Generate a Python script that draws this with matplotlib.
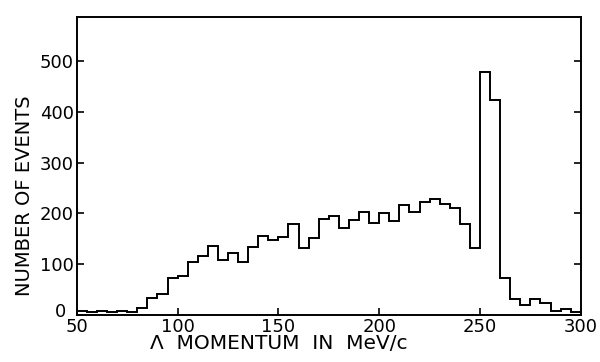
import numpy as np
import matplotlib
matplotlib.use("Agg")
import matplotlib.pyplot as plt
from matplotlib.transforms import offset_copy

# momentum bins, 5 MeV/c wide, 50..300
edges = np.arange(50, 305, 5)
counts = [8, 5, 8, 5, 8, 5, 13, 33, 41, 72,
          77, 105, 117, 136, 108, 123, 104, 134, 155, 148,
          154, 179, 131, 152, 190, 194, 171, 188, 203, 182,
          200, 186, 216, 203, 222, 229, 218, 210, 180, 132,
          478, 423, 73, 32, 20, 31, 24, 8, 12, 6]

xticks = [50, 100, 150, 200, 250, 300]
xticklabels = ["50", "100", "150", "200", "250", "300"]
yticks = [0, 100, 200, 300, 400, 500]

fig = plt.figure(figsize=(6, 3.62), dpi=100)
ax = fig.add_axes([0.128, 0.130, 0.840, 0.823])

ax.stairs(counts, edges, baseline=None, color="black", linewidth=1.4)

ax.set_xlim(50, 300)
ax.set_ylim(0, 587)
ax.set_xticks(xticks)
ax.set_xticklabels(xticklabels)
ax.set_yticks(yticks)

ax.tick_params(direction="in", length=5, width=1.2, labelsize=13, pad=2,
               right=True, top=False)
for s in ax.spines.values():
    s.set_linewidth(1.4)

# the "0" label sits a little above and left of the corner in the original
lab0 = ax.get_yticklabels()[0]
lab0.set_transform(offset_copy(lab0.get_transform(), fig=fig, x=-8, y=5, units="dots"))

ax.set_ylabel("NUMBER OF EVENTS", fontsize=14)
ax.yaxis.set_label_coords(-0.085, 0.40)
ax.set_xlabel("Λ  MOMENTUM  IN  MeV/c", fontsize=14.5)
ax.xaxis.set_label_coords(0.40, -0.065)

fig.savefig("out.png", dpi=100)
